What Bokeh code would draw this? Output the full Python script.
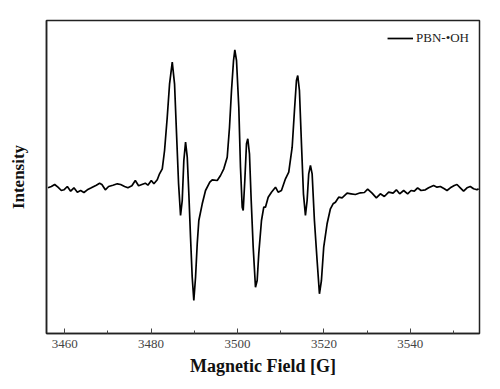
from bokeh.plotting import figure
from bokeh.models import SingleIntervalTicker, FixedTicker, Range1d
from bokeh.embed import file_html
from bokeh.resources import INLINE

# Magnetic field [G] and intensity (arbitrary units)
field = [
    3456.14, 3456.93, 3457.69, 3458.45, 3459.24, 3459.84, 3460.62, 3461.39, 3462.15, 3462.94,
    3463.70, 3464.46, 3465.25, 3466.17, 3467.33, 3468.09, 3468.62, 3469.41, 3470.17, 3471.17,
    3472.18, 3472.95, 3473.87, 3474.64, 3475.56, 3476.35, 3477.11, 3477.87, 3478.66, 3479.26,
    3480.05, 3480.65, 3481.43, 3481.96, 3482.59, 3483.12, 3483.74, 3484.28, 3484.90, 3485.43,
    3485.89, 3486.36, 3486.82, 3487.21, 3487.58, 3487.98, 3488.37, 3488.74, 3489.13, 3489.52,
    3489.89, 3490.29, 3490.68, 3491.05, 3491.84, 3492.60, 3493.59, 3494.15, 3495.31, 3496.07,
    3496.83, 3497.62, 3498.15, 3498.61, 3499.08, 3499.38, 3499.77, 3500.30, 3500.69, 3501.09,
    3501.32, 3501.69, 3502.08, 3502.38, 3502.77, 3503.17, 3503.63, 3504.16, 3504.55, 3504.92,
    3505.55, 3506.08, 3506.47, 3507.10, 3507.86, 3508.79, 3509.41, 3510.17, 3511.10, 3511.86,
    3512.65, 3513.18, 3513.64, 3513.94, 3514.33, 3514.80, 3515.26, 3515.72, 3516.11, 3516.48,
    3516.88, 3517.27, 3517.80, 3518.42, 3518.96, 3519.42, 3519.95, 3520.73, 3521.50, 3522.12,
    3522.66, 3523.42, 3524.20, 3525.36, 3526.29, 3527.28, 3528.44, 3529.36, 3530.12, 3531.14,
    3532.13, 3533.06, 3533.98, 3534.98, 3536.00, 3536.76, 3537.52, 3538.45, 3539.37, 3540.16,
    3540.92, 3541.68, 3542.47, 3543.47, 3544.23, 3545.38, 3546.17, 3546.94, 3547.86, 3548.48,
    3549.25, 3550.17, 3550.79, 3551.56, 3552.32, 3553.11, 3553.87, 3554.63, 3555.42, 3555.79,
]
intensity = [
    -1.3, 0.0, 2.0, -0.7, -4.0, -3.3, 0.0, -4.7, -1.3, -5.7,
    -4.0, -6.0, -3.3, -1.3, 1.3, 3.3, 2.0, -3.3, 0.0, 1.3,
    2.7, 2.0, 0.0, -1.3, 0.7, 6.0, 0.7, 2.0, 3.3, 1.3,
    6.0, 2.7, 6.7, 12.7, 17.7, 36.0, 69.3, 102.7, 124.3, 102.7,
    53.0, 3.0, -29.0, -14.0, 26.0, 44.3, 29.3, -7.3, -50.7, -90.7,
    -114.0, -90.7, -57.3, -34.0, -17.3, -4.0, 4.3, 6.7, 6.0, 11.0,
    17.7, 29.3, 59.3, 96.0, 126.0, 136.7, 126.0, 79.3, 19.3, -20.7,
    -24.0, 6.0, 42.7, 47.7, 32.7, -14.0, -60.7, -100.7, -94.0, -67.3,
    -34.0, -20.7, -20.7, -10.7, -5.7, -0.7, -5.7, -4.0, 7.7, 14.3,
    39.3, 76.0, 106.0, 111.0, 96.0, 42.7, -7.3, -29.0, -14.0, 12.7,
    21.0, 12.7, -34.0, -74.0, -107.3, -94.0, -60.7, -37.3, -22.3, -17.3,
    -15.7, -10.7, -11.3, -6.7, -7.3, -8.0, -6.3, -6.0, -2.7, -6.7,
    -11.3, -7.3, -10.0, -5.7, -6.7, -3.3, -7.3, -4.0, -7.3, -4.0,
    -4.7, -1.3, -4.0, -3.3, -1.3, 1.0, -0.7, 0.0, -2.3, -4.0,
    -1.3, 1.0, 2.0, -1.3, -4.7, -1.3, 0.0, -2.3, -3.3, -2.3,
]
series_label = "PBN-\u2022OH"
x_title = "Magnetic Field [G]"
y_title = "Intensity"

SERIF = "Liberation Serif"

p = figure(width=500, height=389, output_backend="svg", toolbar_location=None,
           x_range=Range1d(3455.8, 3556.0), y_range=Range1d(-147, 166),
           min_border_left=46, min_border_right=21, min_border_top=20, min_border_bottom=56)

p.line(field, intensity, line_color="black", line_width=1.7, legend_label=series_label)

p.grid.visible = False
p.background_fill_color = "white"
p.outline_line_color = "#222222"
p.outline_line_width = 1.5

xa = p.xaxis[0]
xa.ticker = SingleIntervalTicker(interval=20, num_minor_ticks=2)
xa.axis_label = x_title
xa.axis_label_text_font = SERIF
xa.axis_label_text_font_style = "bold"
xa.axis_label_text_font_size = "18px"
xa.axis_label_text_color = "#111111"
xa.axis_label_standoff = 5
xa.major_label_text_font = SERIF
xa.major_label_text_font_size = "13px"
xa.major_label_text_color = "#444444"
xa.major_label_standoff = 6
xa.major_tick_in = 5
xa.major_tick_out = 0
xa.minor_tick_in = 3
xa.minor_tick_out = 0
xa.axis_line_width = 1.5
xa.axis_line_color = "#222222"
xa.major_tick_line_color = "#444444"
xa.minor_tick_line_color = "#444444"

ya = p.yaxis[0]
ya.ticker = FixedTicker(ticks=[])
ya.axis_label = y_title
ya.axis_label_text_font = SERIF
ya.axis_label_text_font_style = "bold"
ya.axis_label_text_font_size = "17px"
ya.axis_label_text_color = "#111111"
ya.axis_label_standoff = 19
ya.major_tick_line_color = None
ya.minor_tick_line_color = None
ya.axis_line_width = 1.5
ya.axis_line_color = "#222222"

lg = p.legend[0]
lg.location = "top_right"
lg.border_line_color = None
lg.background_fill_alpha = 0
lg.margin = 10
lg.padding = 6
lg.label_height = 16
lg.glyph_height = 16
lg.glyph_width = 26
lg.label_standoff = 3
lg.label_text_font = SERIF
lg.label_text_font_size = "13px"
lg.label_text_color = "#222222"

open("out.html", "w").write(file_html(p, INLINE))
